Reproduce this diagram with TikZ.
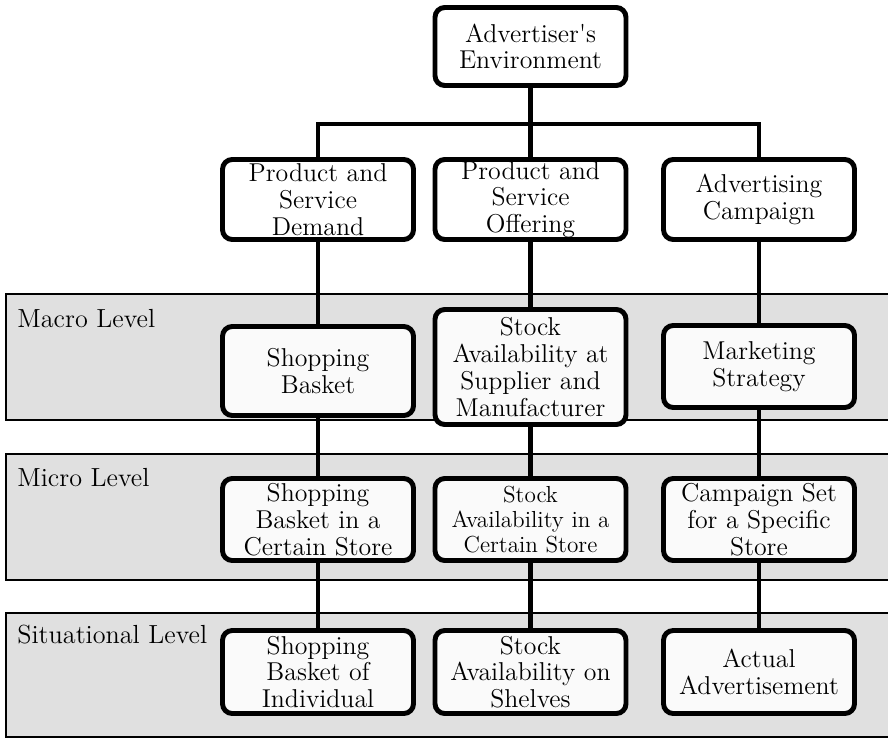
\documentclass[tikz,border=0pt]{standalone}
\usepackage{xcolor}

\definecolor{bandgray}{HTML}{E0E0E0}
\definecolor{boxwhite}{HTML}{FAFAFA}

\begin{document}
\begin{tikzpicture}[
    % One unit is one pixel of the layout; y runs downwards.
    x={(0.02cm,0cm)},
    y={(0cm,-0.02cm)}
]
    % --- Style Definitions ---
    % 'levelband' is the grey strip of a level, 'item' a rounded box,
    % 'link' the thick connecting line.
    \tikzstyle{levelband} = [draw, line width=0.8pt, fill=bandgray]
    \tikzstyle{item} = [draw, line width=2.8pt, rounded corners=5.5pt, fill=white,
        align=center, inner sep=0pt, minimum width=3.82cm,
        font=\fontsize{14.7}{15.2}\selectfont]
    \tikzstyle{initem} = [item, fill=boxwhite]
    \tikzstyle{link} = [draw, line width=2.3pt]
    \tikzstyle{levellabel} = [anchor=base west, inner sep=0pt,
        font=\fontsize{14.9}{15.2}\selectfont]

    \useasboundingbox (0,0) rectangle (888,740);

    % --- Column Positions ---
    \def\ca{318}
    \def\cb{530.5}
    \def\cc{759}

    % --- Level Bands ---
    \path[levelband] (6,294) rectangle (895,420);
    \path[levelband] (6,454) rectangle (895,580);
    \path[levelband] (6,613) rectangle (895,737);
    \node[levellabel] (macro) at (17,327) {Macro Level};
    \node[levellabel] (micro) at (17,486) {Micro Level};
    \node[levellabel] (situ) at (17,643) {Situational Level};

    % --- Environment and its Three Branches ---
    \node[item, minimum height=1.56cm] (env) at (\cb,46.5) {Advertiser\textquotesingle s\\Environment};
    \node[item, minimum height=1.6cm] (demand) at (\ca,199.5) {Product and\\Service\\Demand};
    \node[item, minimum height=1.6cm] (offering) at (\cb,199.5) {Product and\\Service\\Offering};
    \node[item, minimum height=1.6cm] (campaign) at (\cc,199.5) {Advertising\\Campaign};

    % --- Macro Level ---
    \node[initem, minimum height=1.78cm] (basket) at (\ca,371) {Shopping\\Basket};
    \node[initem, minimum height=2.3cm] (supplier) at (\cb,367) {Stock\\Availability at\\Supplier and\\Manufacturer};
    \node[initem, minimum height=1.64cm] (strategy) at (\cc,366.5) {Marketing\\Strategy};

    % --- Micro Level ---
    \node[initem, minimum height=1.64cm] (storebasket) at (\ca,519.5) {Shopping\\Basket in a\\Certain Store};
    \node[initem, minimum height=1.64cm, font=\fontsize{13.2}{14.4}\selectfont] (storestock) at (\cb,519.5) {Stock\\Availability in a\\Certain Store};
    \node[initem, minimum height=1.64cm] (storeset) at (\cc,519.5) {Campaign Set\\for a Specific\\Store};

    % --- Situational Level ---
    \node[initem, minimum height=1.66cm] (ownbasket) at (\ca,672) {Shopping\\Basket of\\Individual};
    \node[initem, minimum height=1.66cm] (shelves) at (\cb,672) {Stock\\Availability on\\Shelves};
    \node[initem, minimum height=1.66cm] (advert) at (\cc,672) {Actual\\Advertisement};

    % --- Connecting Lines ---
    \coordinate (bar) at (\cb,124);
    \draw[link] (env) -- (bar);
    \draw[link] (demand.north) |- (bar) -| (campaign.north);
    \draw[link] (bar) -- (offering.north);

    \draw[link] (demand) -- (basket);
    \draw[link] (basket) -- (storebasket);
    \draw[link] (storebasket) -- (ownbasket);

    \draw[link] (offering) -- (supplier);
    \draw[link] (supplier) -- (storestock);
    \draw[link] (storestock) -- (shelves);

    \draw[link] (campaign) -- (strategy);
    \draw[link] (strategy) -- (storeset);
    \draw[link] (storeset) -- (advert);
\end{tikzpicture}
\end{document}
